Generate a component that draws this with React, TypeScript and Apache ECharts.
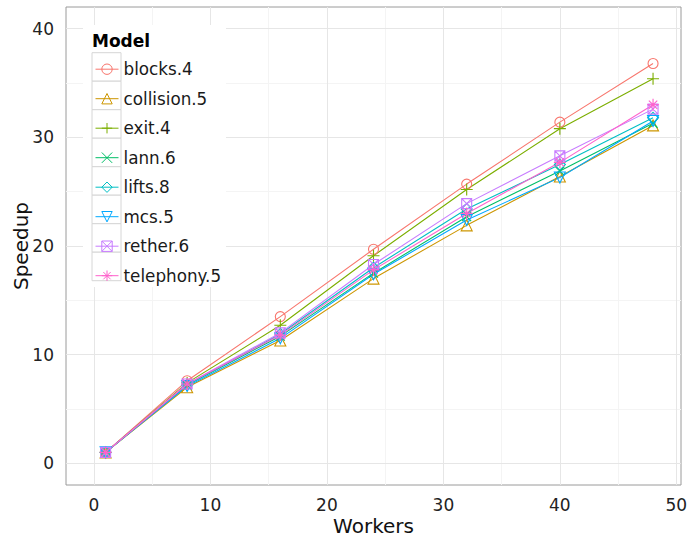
import React, { useEffect, useRef } from "react";
import * as echarts from "echarts";

const workers = [1, 8, 16, 24, 32, 40, 48];
const models = ["blocks.4", "collision.5", "exit.4", "lann.6", "lifts.8", "mcs.5", "rether.6", "telephony.5"];
const blocks4 = [1.0, 7.6, 13.5, 19.7, 25.7, 31.4, 36.8];
const collision5 = [1.0, 7.0, 11.3, 17.0, 21.9, 26.4, 31.1];
const exit4 = [1.0, 7.4, 12.7, 19.1, 25.2, 30.8, 35.4];
const lann6 = [1.0, 7.2, 11.7, 17.5, 22.7, 26.9, 31.3];
const lifts8 = [1.0, 7.2, 11.9, 18.0, 23.4, 27.5, 31.8];
const mcs5 = [1.0, 7.1, 11.5, 17.4, 22.4, 26.3, 31.5];
const rether6 = [1.0, 7.3, 12.0, 18.3, 23.9, 28.3, 32.6];
const telephony5 = [1.0, 7.3, 11.8, 17.8, 23.0, 27.7, 33.0];
const speedups = [blocks4, collision5, exit4, lann6, lifts8, mcs5, rether6, telephony5];

const xMajor = [0, 10, 20, 30, 40, 50];
const xMinor = [5, 15, 25, 35, 45];
const yMajor = [0, 10, 20, 30, 40];
const yMinor = [5, 15, 25, 35];

const colors = ["#F8766D", "#CD9600", "#7CAE00", "#00BE67", "#00BFC4", "#00A9FF", "#C77CFF", "#FF61CC"];
const symbols = [
  "path://M1,0A1,1,0,1,1,-1,0A1,1,0,1,1,1,0Z",
  "path://M0,-1L0.866,0.5L-0.866,0.5Z",
  "path://M0,-1L0,1M-1,0L1,0",
  "path://M-1,-1L1,1M-1,1L1,-1",
  "path://M0,-1L1,0L0,1L-1,0Z",
  "path://M-0.866,-0.5L0.866,-0.5L0,1Z",
  "path://M-1,-1L1,-1L1,1L-1,1ZM-1,-1L1,1M-1,1L1,-1",
  "path://M0,-1L0,1M-1,0L1,0M-0.7,-0.7L0.7,0.7M-0.7,0.7L0.7,-0.7",
];
const symbolSizes = [10, 11, 12, 9, 11, 11, 10, 12];

const FONT = "DejaVu Sans";

export default function App() {
  const ref = useRef<HTMLDivElement>(null);
  useEffect(() => {
    if (!ref.current) return;
    const chart = echarts.init(ref.current, undefined, { renderer: "svg" });

    const gridLines: any[] = [
      ...xMinor.map((v) => ({ xAxis: v, lineStyle: { color: "#f4f4f4", width: 1, type: "solid" } })),
      ...yMinor.map((v) => ({ yAxis: v, lineStyle: { color: "#f4f4f4", width: 1, type: "solid" } })),
      ...xMajor.map((v) => ({ xAxis: v, lineStyle: { color: "#e6e6e6", width: 1, type: "solid" } })),
      ...yMajor.map((v) => ({ yAxis: v, lineStyle: { color: "#e6e6e6", width: 1, type: "solid" } })),
    ];

    const series: any[] = models.map((name, i) => ({
      name,
      type: "line",
      data: workers.map((w, j) => [w, speedups[i][j]]),
      symbol: symbols[i],
      symbolSize: symbolSizes[i],
      showAllSymbol: true,
      z: 3,
      lineStyle: { color: colors[i], width: 1.1 },
      itemStyle: { color: "rgba(0,0,0,0)", borderColor: colors[i], borderWidth: 1.1 },
      emphasis: { disabled: true },
      ...(i === 0
        ? {
            markLine: {
              silent: true,
              symbol: "none",
              z: 1,
              label: { show: false },
              animation: false,
              data: gridLines,
            },
          }
        : {}),
    }));

    const keyTop = 52.7;
    const keyStep = 28.5;
    const keyRects = models.map((_, i) => ({
      type: "rect",
      z: 11,
      shape: { x: 92, y: keyTop + i * keyStep, width: 29, height: keyStep },
      style: { fill: "#ffffff", stroke: "#d6d6d6", lineWidth: 1 },
    }));

    chart.setOption({
      animation: false,
      backgroundColor: "#ffffff",
      grid: {
        left: 66,
        top: 7,
        right: 9,
        bottom: 52,
        outerBoundsMode: "none",
        containLabel: false,
        show: true,
        borderColor: "#9a9a9a",
        borderWidth: 1,
        backgroundColor: "transparent",
      },
      xAxis: {
        type: "value",
        min: -2.4,
        max: 50.4,
        name: "Workers",
        nameLocation: "middle",
        nameGap: 31,
        nameMoveOverlap: false,
        nameTextStyle: { fontFamily: FONT, fontSize: 20, lineHeight: 20, color: "#111" },
        axisLine: { show: false },
        axisTick: { show: true, customValues: xMajor, length: 7, lineStyle: { color: "#555", width: 1 } },
        axisLabel: {
          customValues: xMajor,
          fontFamily: FONT,
          fontSize: 17,
          color: "#222",
          margin: 11,
        },
        splitLine: { show: false },
      },
      yAxis: {
        type: "value",
        min: -2,
        max: 42,
        name: "Speedup",
        nameLocation: "middle",
        nameGap: 35,
        nameMoveOverlap: false,
        nameTextStyle: { fontFamily: FONT, fontSize: 20, lineHeight: 20, color: "#111" },
        axisLine: { show: false },
        axisTick: { show: true, customValues: yMajor, length: 7, lineStyle: { color: "#555", width: 1 } },
        axisLabel: {
          customValues: yMajor,
          fontFamily: FONT,
          fontSize: 17,
          color: "#222",
          margin: 12,
        },
        splitLine: { show: false },
      },
      legend: {
        data: models,
        orient: "vertical",
        left: 95,
        top: 60.7,
        padding: 0,
        itemWidth: 23,
        itemHeight: 13,
        itemGap: 12.5,
        z: 20,
        selectedMode: false,
        textStyle: { fontFamily: FONT, fontSize: 16.8, color: "#1a1a1a", lineHeight: 16 },
        itemStyle: { borderWidth: 1 },
        lineStyle: { width: 1 },
      },
      graphic: [
        {
          type: "rect",
          z: 10,
          shape: { x: 83, y: 25, width: 143, height: 262 },
          style: { fill: "#ffffff", stroke: "none" },
        },
        ...keyRects,
        {
          type: "text",
          z: 12,
          x: 92,
          y: 40.5,
          style: {
            text: "Model",
            fontFamily: FONT,
            fontSize: 17,
            fontWeight: "bold",
            fill: "#000",
            verticalAlign: "middle",
            align: "left",
          },
        },
      ],
      series,
    });
    return () => chart.dispose();
  }, []);
  return <div ref={ref} style={{ position: "fixed", left: 0, top: 0, width: 690, height: 537 }} />;
}
